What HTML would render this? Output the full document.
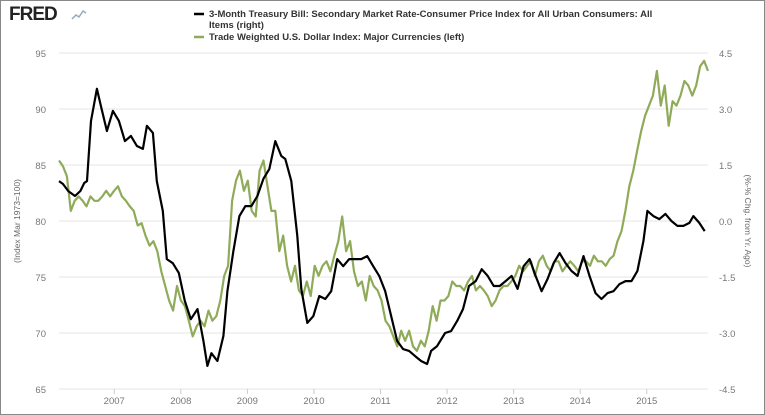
<!DOCTYPE html>
<html><head><meta charset="utf-8">
<style>
body{margin:0;background:#fff;font-family:"Liberation Sans",sans-serif;}
#wrap{position:relative;width:763px;height:413px;border:1px solid #888;background:#fff;overflow:hidden;}
</style></head>
<body>
<div id="wrap">
<svg id="chart" width="763" height="413">
<g>
<text x="8" y="19" font-size="19" font-weight="bold" fill="#222" font-family="Liberation Sans, sans-serif" letter-spacing="-1">FRED</text>
<polyline points="71,18 75,14 78,16 82,10 85,12" fill="none" stroke="#9ab" stroke-width="1.5"/>
</g>
<g font-size="9.5" font-weight="bold" fill="#333">
<line x1="193" y1="13" x2="203" y2="13" stroke="#000" stroke-width="2.5"/>
<text x="208" y="16">3-Month Treasury Bill: Secondary Market Rate-Consumer Price Index for All Urban Consumers: All</text>
<text x="208" y="27">Items (right)</text>
<line x1="193" y1="36" x2="203" y2="36" stroke="#8fab5a" stroke-width="2.5"/>
<text x="208" y="39">Trade Weighted U.S. Dollar Index: Major Currencies (left)</text>
</g>
<g id="grid"></g><g id="axes"></g><g id="series"></g>
<text transform="translate(19,220) rotate(-90)" text-anchor="middle" font-size="8.5" fill="#666">(Index Mar 1973=100)</text>
<text transform="translate(744,220) rotate(90)" text-anchor="middle" font-size="8.5" fill="#666">(%-% Chg. from Yr. Ago)</text>
</svg>
</div>
<script>
const leftTicks=[65,70,75,80,85,90,95];
const rightTicks=["-4.5","-3.0","-1.5","0.0","1.5","3.0","4.5"];
const yearTicks=[2007,2008,2009,2010,2011,2012,2013,2014,2015];
const startDate=2006.17, endDate=2015.92;
const tbillDates=[2006.17,2006.23,2006.31,2006.41,2006.49,2006.55,2006.59,2006.65,2006.74,2006.80,2006.89,2006.98,2007.07,2007.16,2007.25,2007.34,2007.43,2007.49,2007.58,2007.64,2007.73,2007.79,2007.88,2007.97,2008.06,2008.15,2008.25,2008.34,2008.40,2008.46,2008.55,2008.64,2008.70,2008.79,2008.88,2008.97,2009.06,2009.15,2009.24,2009.33,2009.42,2009.51,2009.57,2009.66,2009.75,2009.81,2009.90,2009.99,2010.08,2010.17,2010.26,2010.35,2010.44,2010.53,2010.62,2010.71,2010.80,2010.89,2010.98,2011.07,2011.16,2011.25,2011.34,2011.43,2011.52,2011.61,2011.70,2011.76,2011.85,2011.97,2012.06,2012.15,2012.24,2012.33,2012.43,2012.52,2012.61,2012.70,2012.79,2012.88,2012.97,2013.06,2013.15,2013.24,2013.33,2013.42,2013.51,2013.60,2013.69,2013.78,2013.87,2013.96,2014.05,2014.14,2014.23,2014.32,2014.41,2014.50,2014.59,2014.68,2014.77,2014.86,2014.95,2015.01,2015.10,2015.19,2015.28,2015.37,2015.46,2015.55,2015.64,2015.70,2015.79,2015.87];
const tbill=[1.07,0.99,0.8,0.67,0.8,1.02,1.07,2.68,3.54,3.08,2.41,2.95,2.68,2.14,2.28,2.01,1.93,2.55,2.36,1.07,0.27,-1.02,-1.13,-1.39,-2.14,-2.63,-2.36,-3.21,-3.88,-3.54,-3.75,-3.08,-1.88,-0.8,0.13,0.4,0.4,0.67,1.13,1.39,2.14,1.74,1.66,1.07,-0.4,-1.82,-2.73,-2.55,-2.01,-2.09,-1.88,-1.02,-1.21,-1.02,-1.02,-1.02,-0.94,-1.21,-1.47,-1.88,-2.55,-3.21,-3.43,-3.48,-3.62,-3.75,-3.83,-3.48,-3.35,-3.0,-2.95,-2.68,-2.36,-1.74,-1.61,-1.29,-1.47,-1.74,-1.74,-1.61,-1.47,-1.82,-1.21,-1.02,-1.47,-1.88,-1.55,-1.13,-0.86,-1.13,-1.34,-1.47,-0.94,-1.47,-1.93,-2.09,-1.93,-1.88,-1.69,-1.61,-1.61,-1.34,-0.54,0.27,0.13,0.05,0.19,0,-0.13,-0.13,-0.05,0.13,-0.05,-0.27];
const dollar=[85.4,84.9,84.0,80.9,81.8,82.2,81.8,81.3,82.2,81.8,81.8,82.2,82.7,82.2,82.7,83.1,82.2,81.8,81.3,80.9,79.6,79.8,78.7,77.8,78.2,77.3,75.5,74.2,72.9,72.0,74.2,72.9,72.4,71.1,69.7,70.6,71.1,70.6,72.0,71.1,71.5,72.9,75.1,76.0,81.8,83.6,84.5,82.7,83.6,80.9,80.4,84.5,85.4,83.1,80.9,80.9,77.3,78.7,76.0,74.6,76.0,73.8,73.3,74.6,73.3,76.0,75.1,76.0,76.4,75.5,76.9,78.2,80.4,77.3,78.2,75.5,74.2,74.6,72.9,75.1,74.2,73.8,72.9,71.1,70.6,69.7,68.8,70.2,69.3,70.2,68.8,68.4,69.3,68.8,70.2,72.4,71.1,72.9,72.9,73.3,74.6,74.2,74.2,73.8,74.6,75.1,73.8,74.2,73.8,73.3,72.4,72.9,73.8,74.2,74.2,74.6,75.1,76.0,75.5,76.0,76.4,75.1,76.4,76.9,76.0,75.5,76.4,76.4,75.5,76.0,76.4,76.0,75.5,76.4,76.4,76.0,76.9,76.4,76.4,76.0,76.6,76.9,78.2,79.1,80.9,83.1,84.5,86.3,88.0,89.4,90.3,91.2,93.4,90.3,92.1,88.5,90.7,90.3,91.2,92.5,92.1,91.2,92.1,93.8,94.3,93.4];
const X0=58,X1=707,Y95=52,Y65=388;
function xs(d){return X0+(d-startDate)/(endDate-startDate)*(X1-X0);}
function yl(v){return Y65-(v-65)/30*(Y65-Y95);}
function yr(v){return Y65-(v+4.5)/9*(Y65-Y95);}
const NS="http://www.w3.org/2000/svg";
function mk(t,a,p){const e=document.createElementNS(NS,t);for(const k in a)e.setAttribute(k,a[k]);p.appendChild(e);return e;}
const grid=document.getElementById('grid'),axes=document.getElementById('axes'),ser=document.getElementById('series');
leftTicks.forEach((v,i)=>{const y=yl(v);
 const g=mk('line',{x1:X0,x2:X1,y1:y,y2:y,stroke:'#e4e4e4','stroke-width':1},grid);
 
 
 const t=mk('text',{x:45,y:y+4,'text-anchor':'end','font-size':9.5,fill:'#777'},axes);t.textContent=v;
 
 
 const r=mk('text',{x:718,y:y+4,'font-size':9.5,fill:'#777'},axes);r.textContent=rightTicks[i];
 
 
});
yearTicks.forEach(yr0=>{const x=xs(yr0);
 const l=mk('line',{x1:x,x2:x,y1:Y65,y2:Y65+5,stroke:'#ccc'},axes);
 
 
 const t=mk('text',{x:x,y:Y65+15,'text-anchor':'middle','font-size':9.5,fill:'#777'},axes);t.textContent=yr0;
 
 
});
function draw(pts,name,color){
 const p=mk('polyline',{points:pts.join(' '),fill:'none',stroke:color,'stroke-width':2.2,'stroke-linejoin':'round'},ser);
 
 
}
const dPts=dollar.map((v,i)=>xs(startDate+i/(dollar.length-1)*(endDate-startDate)).toFixed(1)+','+yl(v).toFixed(1));
draw(dPts,'dollar-index-line','#8fab5a');
const n=Math.min(tbill.length,tbillDates.length);
const tPts=[];for(let i=0;i<n;i++)tPts.push(xs(tbillDates[i]).toFixed(1)+','+yr(tbill[i]).toFixed(1));
draw(tPts,'tbill-line','#000');
</script>
</body></html>
